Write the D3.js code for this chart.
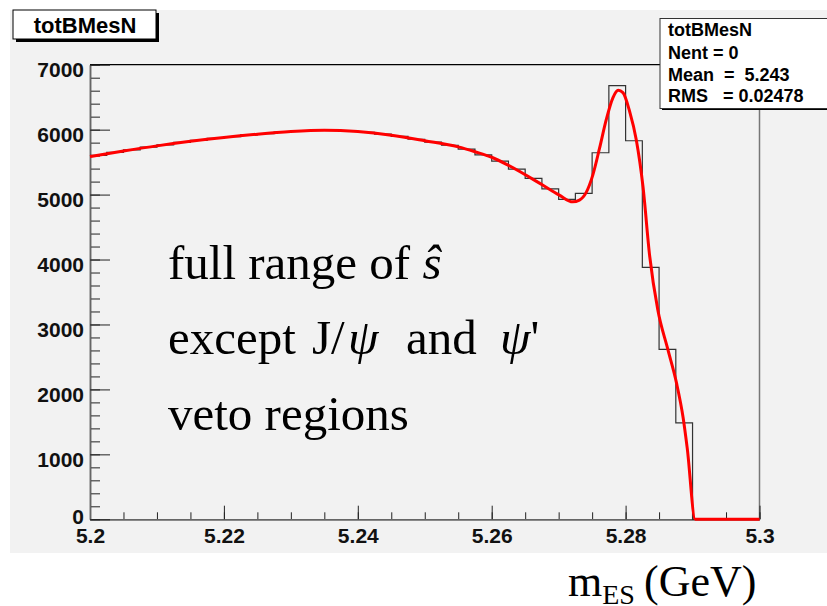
<!DOCTYPE html>
<html><head><meta charset="utf-8">
<script src="https://cdn.jsdelivr.net/npm/d3@7"></script>
<style>body{margin:0;background:#fff}svg{display:block}</style>
</head><body>
<script>
// ---- data ----
const xTicks = [5.2, 5.22, 5.24, 5.26, 5.28, 5.3];
const xTickLabels = ["5.2", "5.22", "5.24", "5.26", "5.28", "5.3"];
const yTicks = [0, 1000, 2000, 3000, 4000, 5000, 6000, 7000];
const histLowEdges = d3.range(40).map(i => +(5.2 + i * 0.0025).toFixed(4));
const histValues = [5605, 5650, 5690, 5732, 5766, 5804, 5835, 5866, 5892, 5918,
  5940, 5962, 5976, 5987, 5988, 5977, 5960, 5930, 5895, 5852,
  5808, 5760, 5700, 5610, 5516, 5393, 5250, 5089, 4926, 5018,
  5644, 6677, 5829, 3878, 2615, 1484, 0, 0, 0, 0];
const fitX = [5.200, 5.205, 5.210, 5.215, 5.220, 5.225, 5.230, 5.235, 5.240, 5.245,
  5.250, 5.255, 5.2575, 5.260, 5.2625, 5.2672, 5.2701, 5.2721, 5.2731, 5.2741, 5.2751,
  5.2761, 5.2771, 5.2781, 5.2789, 5.2796, 5.2806, 5.2816, 5.2826, 5.2836, 5.2848,
  5.2863, 5.2876, 5.2886, 5.2892, 5.2904, 5.300];
const fitY = [5585, 5670, 5750, 5820, 5880, 5930, 5970, 5990, 5970, 5915,
  5830, 5735, 5660, 5575, 5450, 5172, 4992, 4889, 4915, 5030, 5300,
  5710, 6150, 6490, 6605, 6570, 6280, 5840, 5120, 4050, 3230,
  2620, 2100, 1560, 1100, 0, 0];
const histTitle = "totBMesN";
const statsLines = ["totBMesN", "Nent = 0", "Mean  =  5.243", "RMS   = 0.02478"];

// ---- layout ----
const W = 827, H = 606;
const svg = d3.select("body").append("svg").attr("width", W).attr("height", H)
  .attr("font-family", "'Liberation Sans', Arial, sans-serif");

svg.append("rect").attr("x", 10).attr("y", 10).attr("width", W - 10).attr("height", 543).attr("fill", "#f2f2f2");

const x = d3.scaleLinear().domain([5.2, 5.3]).range([90, 759.5]);
const y = d3.scaleLinear().domain([0, 7000]).range([519.3, 64.7]);

// frame
svg.append("line").attr("x1", x(5.2)).attr("x2", x(5.3)).attr("y1", y(7000)).attr("y2", y(7000)).attr("stroke", "#000").attr("stroke-width", 1.2);
svg.append("line").attr("x1", x(5.3)).attr("x2", x(5.3)).attr("y1", y(7000)).attr("y2", y(0)).attr("stroke", "#777").attr("stroke-width", 1.5);

// x axis minor + major
const xMinor = d3.range(0, 21).map(i => +(5.2 + i * 0.005).toFixed(3));
const gxm = svg.append("g").attr("transform", `translate(0,${y(0)})`)
  .call(d3.axisBottom(x).tickValues(xMinor).tickSizeInner(-7).tickSizeOuter(0).tickFormat(""));
const gx = svg.append("g").attr("transform", `translate(0,${y(0)})`)
  .call(d3.axisBottom(x).tickValues(xTicks).tickSizeInner(-13.6).tickSizeOuter(0).tickPadding(9)
    .tickFormat((d, i) => xTickLabels[i]));
gx.selectAll(".tick text").attr("font-size", 21).attr("font-weight", "bold").attr("fill", "#111");
[gx, gxm].forEach(g => { g.select(".domain").attr("stroke", "#666").attr("stroke-width", 1.5); g.selectAll("line").attr("stroke", "#222"); });

// y axis
const yMinor = d3.range(0, 36).map(i => i * 200);
const gym = svg.append("g").attr("transform", `translate(${x(5.2)},0)`)
  .call(d3.axisLeft(y).tickValues(yMinor).tickSizeInner(-10).tickSizeOuter(0).tickFormat(""));
const gy = svg.append("g").attr("transform", `translate(${x(5.2)},0)`)
  .call(d3.axisLeft(y).tickValues(yTicks).tickSizeInner(-20).tickSizeOuter(0).tickPadding(6).tickFormat(d3.format("d")));
gy.selectAll("text").attr("font-size", 21).attr("font-weight", "bold").attr("fill", "#111")
  .attr("dy", d => d === 0 ? "0.22em" : "0.57em");
[gy, gym].forEach(g => { g.select(".domain").attr("stroke", "#666").attr("stroke-width", 1.5); g.selectAll("line").attr("stroke", "#222"); });

// histogram
const histPts = histLowEdges.map((e, i) => [e, histValues[i]]);
histPts.push([5.3, histValues[histValues.length - 1]]);
svg.append("path").attr("d", d3.line().x(d => x(d[0])).y(d => y(d[1])).curve(d3.curveStepAfter)(histPts))
  .attr("fill", "none").attr("stroke", "#333").attr("stroke-width", 1.2);

// fit curve
const fitPts = fitX.map((v, i) => [v, fitY[i]]);
svg.append("path").attr("d", d3.line().x(d => x(d[0])).y(d => y(d[1])).curve(d3.curveMonotoneX)(fitPts))
  .attr("fill", "none").attr("stroke", "#ff0000").attr("stroke-width", 3).attr("stroke-linejoin", "round");

// title box
svg.append("rect").attr("x", 16).attr("y", 13).attr("width", 143).attr("height", 29).attr("fill", "#000");
svg.append("rect").attr("x", 13).attr("y", 10).attr("width", 143).attr("height", 29).attr("fill", "#fff").attr("stroke", "#000").attr("stroke-width", 1);
svg.append("text").attr("x", 85).attr("y", 32.5).attr("text-anchor", "middle").attr("font-size", 22).attr("font-weight", "bold").text(histTitle);

// stats box
svg.append("rect").attr("x", 662).attr("y", 20).attr("width", 180).attr("height", 90).attr("fill", "#000");
svg.append("rect").attr("x", 660).attr("y", 18.5).attr("width", 180).attr("height", 90).attr("fill", "#fff").attr("stroke", "#333").attr("stroke-width", 1);
const base = [36, 58.7, 81, 101.7];
statsLines.forEach((s, i) => {
  svg.append("text").attr("x", 668).attr("y", base[i]).attr("font-size", 18).attr("font-weight", "bold")
    .text(s.replace(/ /g, "\u00a0"));
});

// annotation text (serif)
const serif = "'Liberation Serif', 'Times New Roman', serif";
const ann = svg.append("g").attr("font-family", serif).attr("font-size", 49).attr("fill", "#000");
const t1 = ann.append("text").attr("x", 168).attr("y", 279);
t1.append("tspan").text("full range of ");
t1.append("tspan").attr("font-style", "italic").text("ŝ");
const t2 = ann.append("text").attr("y", 354);
t2.append("tspan").attr("x", 168).text("except");
t2.append("tspan").attr("x", 312).text("J/");
t2.append("tspan").attr("x", 348).attr("font-style", "italic").text("ψ");
t2.append("tspan").attr("x", 406).text("and");
t2.append("tspan").attr("x", 500).attr("font-style", "italic").text("ψ");
t2.append("tspan").text("'");
ann.append("text").attr("x", 168).attr("y", 430).text("veto regions");

// x title
const xt = svg.append("text").attr("x", 568).attr("y", 596).attr("font-family", serif).attr("font-size", 44).attr("fill", "#000");
xt.append("tspan").text("m");
xt.append("tspan").attr("font-size", 28).attr("dy", 8).text("ES");
xt.append("tspan").attr("x", 644).attr("dy", -8).text("(GeV)");
</script>
</body></html>
